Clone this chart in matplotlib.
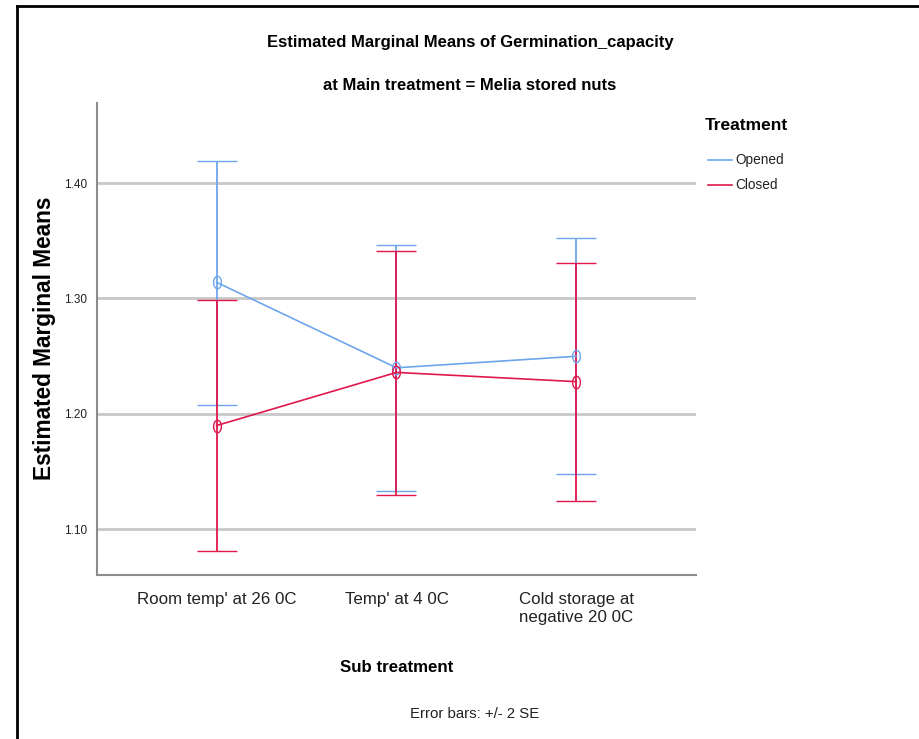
import matplotlib
matplotlib.use("Agg")
import matplotlib.pyplot as plt
from matplotlib.lines import Line2D
from matplotlib.path import Path
import numpy as np

categories = ["Room temp' at 26 0C", "Temp' at 4 0C", "Cold storage at\nnegative 20 0C"]
series_names = ["Opened", "Closed"]
opened_mean = [1.314, 1.240, 1.250]
opened_low = [1.208, 1.133, 1.148]
opened_high = [1.419, 1.346, 1.352]
closed_mean = [1.190, 1.236, 1.228]
closed_low = [1.081, 1.130, 1.125]
closed_high = [1.299, 1.341, 1.331]
yticks = [1.10, 1.20, 1.30, 1.40]

BLUE = "#6EA6EE"
RED = "#E0184C"
FONT = ["Liberation Sans", "DejaVu Sans"]
plt.rcParams["font.family"] = FONT

# narrow ellipse marker (SPSS style)
t = np.linspace(0, 2 * np.pi, 40)
ellipse = Path(np.c_[0.62 * np.cos(t), np.sin(t)], closed=True)

fig = plt.figure(figsize=(9.2, 7.39), dpi=100)
ax = fig.add_axes([97/920, 1-575/739, (696-97)/920, (575-102.5)/739])

x = np.arange(len(categories))
series = [(opened_mean, opened_low, opened_high, BLUE),
          (closed_mean, closed_low, closed_high, RED)]
for mean, lo, hi, col in series:
    mean = np.array(mean); lo = np.array(lo); hi = np.array(hi)
    ax.errorbar(x, mean, yerr=[mean - lo, hi - mean], color=col, lw=1.2,
                elinewidth=1.3, capsize=14.4, capthick=2.4,
                marker=ellipse, markersize=9, markerfacecolor="none",
                markeredgecolor=col, markeredgewidth=1.0, zorder=3)

ax.set_xlim(-0.665, 2.665)
ax.set_ylim(1.0606, 1.4697)
ax.set_yticks(yticks)
ax.set_yticklabels([f"{v:.2f}" for v in yticks], fontsize=8.5, color="#222222")
ax.set_xticks(x)
ax.set_xticklabels(categories, fontsize=12.2, color="#222222", linespacing=1.3)
ax.tick_params(axis="both", length=0, pad=7)
ax.tick_params(axis="x", pad=12)
ax.grid(axis="y", color="#C8C8C8", lw=2.0)
ax.set_axisbelow(True)
for s in ["top", "right"]:
    ax.spines[s].set_visible(False)
for s in ["left", "bottom"]:
    ax.spines[s].set_color("#8C8C8C")
    ax.spines[s].set_linewidth(1.5)

fig.text(470/920, 1-42/739, "Estimated Marginal Means of Germination_capacity",
         ha="center", va="center", fontsize=12, fontweight="bold")
fig.text(470/920, 1-85/739, "at Main treatment = Melia stored nuts",
         ha="center", va="center", fontsize=12, fontweight="bold")
fig.text(45/920, 1-338/739, "Estimated Marginal Means", rotation=90,
         ha="center", va="center", fontsize=16.3, fontweight="bold")
fig.text(396.5/920, 1-668/739, "Sub treatment", ha="center", va="center",
         fontsize=12.2, fontweight="bold")
fig.text(475/920, 1-714/739, "Error bars: +/- 2 SE", ha="center", va="center",
         fontsize=10.8, color="#222222")

# legend
fig.text(705/920, 1-125/739, "Treatment", ha="left", va="center",
         fontsize=12.5, fontweight="bold")
for i, (name, (_, _, _, col)) in enumerate(zip(series_names, series)):
    yy = 1 - (160 + 25 * i) / 739
    fig.add_artist(Line2D([708/920, 732/920], [yy, yy], transform=fig.transFigure,
                          color=col, lw=1.2))
    fig.text(735/920, yy, name, ha="left", va="center", fontsize=9.8,
             color="#222222")

# outer frame
fig.add_artist(Line2D([17/920, 17/920], [0, 1-6/739], transform=fig.transFigure,
                      color="black", lw=2.0))
fig.add_artist(Line2D([17/920, 1], [1-6/739, 1-6/739], transform=fig.transFigure,
                      color="black", lw=2.0))

fig.savefig("out.png", dpi=100)
